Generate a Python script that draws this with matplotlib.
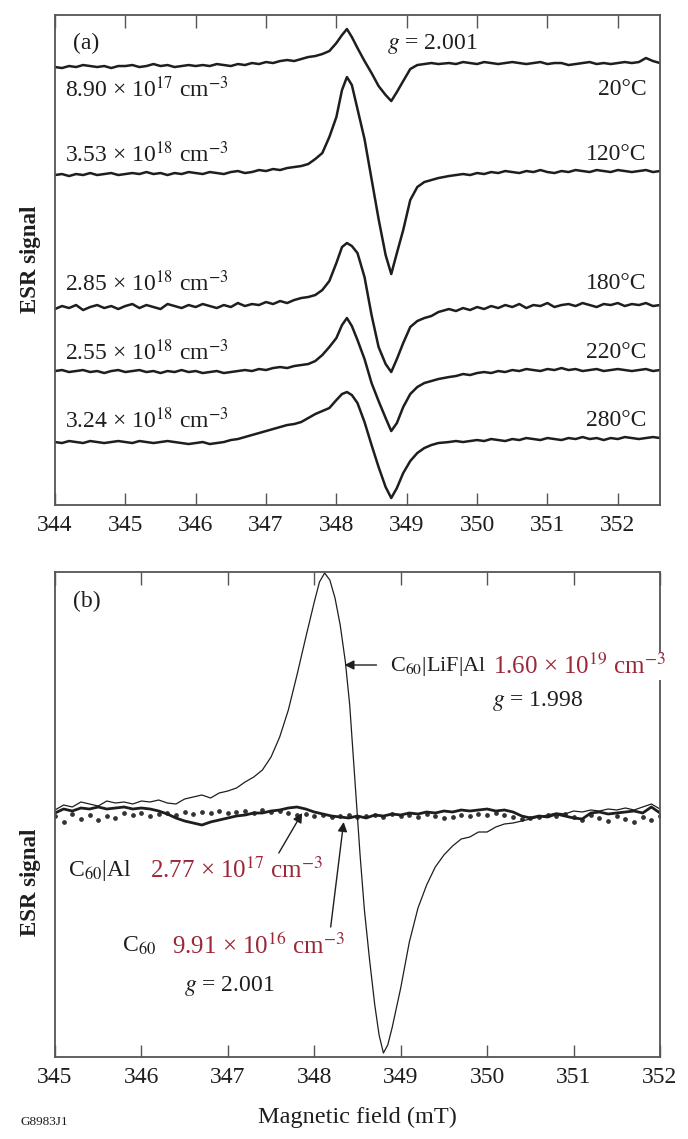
import numpy as np
import matplotlib
matplotlib.use("Agg")
import matplotlib.pyplot as plt

plt.rcParams['font.family'] = ['Liberation Serif', 'DejaVu Serif']
plt.rcParams['mathtext.fontset'] = 'stix'

# ---------------- panel (a): annealing series ----------------
field_a = [344.0, 344.1, 344.2, 344.3, 344.4, 344.5, 344.6, 344.7, 344.8, 344.9,
           345.0, 345.1, 345.2, 345.3, 345.4, 345.5, 345.6, 345.7, 345.8, 345.9,
           346.0, 346.1, 346.2, 346.3, 346.4, 346.5, 346.6, 346.7, 346.8, 346.9,
           347.0, 347.1, 347.2, 347.3, 347.4, 347.5, 347.6,
           347.7, 347.8, 347.9, 348.0, 348.08, 348.15, 348.22, 348.3, 348.4, 348.5,
           348.6, 348.7, 348.78, 348.86, 348.95, 349.05, 349.15, 349.25, 349.35, 349.45,
           349.6, 349.7, 349.8, 349.9, 350.0, 350.1, 350.2, 350.3, 350.4, 350.5,
           350.6, 350.7, 350.8, 350.9, 351.0, 351.1, 351.2, 351.3, 351.4, 351.5,
           351.6, 351.7, 351.8, 351.9, 352.0, 352.1, 352.2, 352.3, 352.4, 352.5, 352.6]

esr_20C = [0, -1, 1, 0, 2, 1, 0, 1, -1, 1,
           1, 2, 0, 1, 3, 1, 2, 0, 1, 2,
           1, 2, 1, 3, 2, 1, 3, 2, 4, 3,
           5, 4, 6, 7, 6, 8, 10,
           11, 13, 16, 24, 32, 38, 30, 19, 6, -6,
           -19, -28, -34, -25, -14, -2, 2, 3, 4, 3,
           4, 3, 5, 4, 3, 5, 4, 3, 4, 5,
           4, 3, 4, 5, 3, 4, 4, 2, 3, 4,
           5, 3, 4, 3, 4, 5, 4, 5, 9, 6, 4]
esr_120C = [0, 1, -1, 1, 0, 2, 0, 1, 2, 0,
            1, 2, 1, 3, 1, 2, 0, 2, 1, 3,
            2, 1, 3, 2, 1, 3, 4, 2, 3, 5,
            4, 6, 5, 7, 8, 9, 11,
            16, 22, 38, 58, 85, 98, 90, 66, 36, -4,
            -44, -80, -99, -78, -55, -25, -12, -7, -5, -3,
            -1, 0, 1, 0, 2, 1, 3, 2, 4, 3,
            2, 4, 3, 5, 3, 2, 4, 3, 5, 4,
            3, 5, 4, 3, 5, 4, 3, 4, 5, 3, 4]
esr_180C = [-2, 1, -1, 2, -3, 0, 2, -1, 1, -2,
            1, 3, -1, 2, 0, -2, 3, 1, -1, 2,
            0, 3, 1, -1, 2, 0, 4, 1, 3, 2,
            5, 3, 6, 4, 7, 9, 10,
            12, 17, 26, 44, 60, 64, 61, 54, 30, -8,
            -40, -57, -65, -52, -36, -20, -14, -11, -9, -5,
            -2, -4, -1, -3, 0, -2, 1, -1, 2, 0,
            3, -1, 2, 1, 4, 0, 2, 3, 1, 4,
            2, 0, 3, 2, 4, 1, 3, 2, 4, 1, 2]
esr_220C = [0, 1, -1, 0, 1, -1, 0, -2, 0, 1,
            -1, 0, 1, -1, 0, -2, 0, -1, 1, -1,
            0, -2, -1, 0, -2, -1, 0, 1, 0, 2,
            1, 3, 4, 3, 5, 6, 7,
            10, 16, 24, 33, 46, 53, 45, 31, 12, -12,
            -30, -47, -60, -52, -36, -23, -16, -12, -10, -8,
            -6, -5, -3, -4, -2, -1, -2, 0, -1, 1,
            0, 2, 1, 0, 2, 1, 3, 1, 2, 0,
            1, 2, 0, 1, 2, 1, 0, 1, 2, 0, 1]
esr_280C = [0, -1, 1, 0, -1, 1, 0, -1, 0, 1,
            0, -1, 1, 0, -1, 0, 1, 0, -1, -2,
            -1, 0, -2, -1, 0, 2, 3, 5, 7, 9,
            11, 13, 15, 17, 18, 20, 24,
            28, 31, 34, 42, 48, 50, 47, 39, 20, -3,
            -25, -45, -56, -46, -31, -19, -11, -6, -3, -1,
            0, 1, 0, 1, 2, 1, 3, 2, 1, 3,
            2, 4, 3, 2, 4, 3, 2, 4, 3, 5,
            3, 4, 2, 4, 3, 5, 4, 3, 4, 5, 4]

traces_a = [esr_20C, esr_120C, esr_180C, esr_220C, esr_280C]
offsets_a = [438, 330, 198, 134, 63]
temps_a = ["20°C", "120°C", "180°C", "220°C", "280°C"]
dens_a = ["8.90 × 10$^{17}$ cm$^{-3}$", "3.53 × 10$^{18}$ cm$^{-3}$",
          "2.85 × 10$^{18}$ cm$^{-3}$", "2.55 × 10$^{18}$ cm$^{-3}$",
          "3.24 × 10$^{18}$ cm$^{-3}$"]
label_y_a = [0.848, 0.715, 0.452, 0.311, 0.172]

# ---------------- panel (b): device comparison ----------------
field_lif = [345.0, 345.1, 345.2, 345.3, 345.4, 345.5, 345.6, 345.7, 345.8, 345.9,
             346.0, 346.1, 346.2, 346.3, 346.4, 346.5, 346.6, 346.7, 346.8, 346.9,
             347.0, 347.1, 347.2, 347.3, 347.4, 347.5, 347.6, 347.7, 347.8, 347.9,
             348.0, 348.06, 348.12, 348.18, 348.24, 348.3, 348.36, 348.41, 348.45, 348.49,
             348.53, 348.58, 348.64, 348.7, 348.75, 348.8, 348.85, 348.9, 349.0, 349.1,
             349.2, 349.3, 349.4, 349.5, 349.6, 349.7, 349.8, 349.9, 350.0, 350.1,
             350.2, 350.3, 350.4, 350.5, 350.6, 350.7, 350.8, 350.9, 351.0, 351.1,
             351.2, 351.3, 351.4, 351.5, 351.6, 351.7, 351.8, 351.9, 352.0]
esr_lif = [0, 5, 3, 8, 6, 4, 9, 7, 8, 6,
           9, 8, 10, 7, 6, 11, 13, 15, 12, 17,
           19, 22, 28, 33, 40, 53, 73, 100, 135, 172,
           208, 228, 237, 230, 212, 185, 148, 105, 55, 5,
           -45, -100, -150, -195, -225, -243, -235, -218, -178, -132,
           -98, -75, -57, -45, -36, -29, -27, -22, -22, -17,
           -14, -13, -11, -9, -7, -5, -3, -4, -1, -2,
           0, -1, 1, 0, 2, 0, 3, 6, 1]

field_b = [345.0, 345.1, 345.2, 345.3, 345.4, 345.5, 345.6, 345.7, 345.8, 345.9,
           346.0, 346.1, 346.2, 346.3, 346.4, 346.5, 346.6, 346.7, 346.8, 346.9,
           347.0, 347.1, 347.2, 347.3, 347.4, 347.5, 347.6, 347.7, 347.8, 347.9,
           348.0, 348.1, 348.2, 348.3, 348.4, 348.5, 348.6, 348.7, 348.8, 348.9,
           349.0, 349.1, 349.2, 349.3, 349.4, 349.5, 349.6, 349.7, 349.8, 349.9,
           350.0, 350.1, 350.2, 350.3, 350.4, 350.5, 350.6, 350.7, 350.8, 350.9,
           351.0, 351.1, 351.2, 351.3, 351.4, 351.5, 351.6, 351.7, 351.8, 351.9, 352.0]
esr_al = [-3, 1, -1, 2, 1, 3, 1, 2, 3, 1,
          2, 1, -1, -4, -8, -11, -13, -15, -12, -10,
          -8, -6, -5, -3, -3, -1, 0, 2, 3, 1,
          -2, -4, -6, -7, -8, -6, -8, -5, -6, -4,
          -5, -3, -4, -2, -3, -1, -2, 0, -1, 0,
          1, -1, 0, -2, -6, -8, -6, -7, -4, -6,
          -8, -9, -3, -2, -4, -3, -2, -1, -3, 3, -3]
esr_c60 = [-6, -12, -4, -9, -5, -10, -6, -8, -3, -5,
           -3, -6, -4, -3, -5, -2, -4, -2, -3, -1,
           -3, -2, -1, -3, 0, -2, -1, -3, -5, -4,
           -6, -5, -7, -6, -5, -7, -6, -5, -7, -4,
           -6, -5, -7, -4, -6, -8, -7, -5, -6, -4,
           -5, -3, -5, -7, -9, -8, -7, -5, -6, -4,
           -7, -10, -5, -8, -11, -6, -9, -12, -7, -10, -6]

red = '#9a2838'
ink = '#1e1e1e'
frame = '#555555'
fs = 17
fs_b = 18

fig = plt.figure(figsize=(6.88, 11.39), dpi=100)
ax_a = fig.add_axes([0.0799, 0.5566, 0.8794, 0.4302])
ax_b = fig.add_axes([0.0799, 0.0720, 0.8794, 0.4258])

# panel (a)
for vals, off in zip(traces_a, offsets_a):
    ax_a.plot(field_a, np.array(vals) + off, color=ink, lw=1.8)
ax_a.set_xlim(344, 352.6)
ax_a.set_ylim(0, 490)
ax_a.set_xticks(range(344, 353))

for txt, ty in zip(temps_a, label_y_a):
    ax_a.text(0.978, ty, txt, transform=ax_a.transAxes, ha='right', va='center',
              fontsize=fs, color=ink)
for txt, ty in zip(dens_a, label_y_a):
    ax_a.text(0.0165, ty, txt, transform=ax_a.transAxes, ha='left', va='center',
              fontsize=fs, color=ink)
ax_a.text(0.030, 0.943, "(a)", transform=ax_a.transAxes, ha='left', va='center',
          fontsize=fs, color=ink)
ax_a.text(0.549, 0.941, "$g$ = 2.001", transform=ax_a.transAxes, ha='left', va='center',
          fontsize=fs, color=ink)

# panel (b)
ax_b.plot(field_b, esr_c60, linestyle='none', marker='o', ms=2.4, color='#333333')
ax_b.plot(field_b, esr_al, color=ink, lw=2.0)
ax_b.plot(field_lif, esr_lif, color=ink, lw=0.9)
ax_b.set_xlim(345, 352)
ax_b.set_ylim(-247, 238)
ax_b.set_xticks(range(345, 353))

arrow_kw = dict(arrowstyle='-|>', color=ink, lw=1.0, mutation_scale=14,
                shrinkA=0, shrinkB=0)
ax_b.annotate("", xy=(348.35, 145), xytext=(348.72, 145), arrowprops=arrow_kw)
ax_b.annotate("", xy=(347.86, -3), xytext=(347.59, -43), arrowprops=arrow_kw)
ax_b.annotate("", xy=(348.34, -12), xytext=(348.19, -117), arrowprops=arrow_kw)

ax_b.text(0.554, 0.806, "C$_{60}$|LiF|Al", transform=ax_b.transAxes, ha='left',
          va='center', fontsize=16, color=ink)
ax_b.text(0.724, 0.806, "1.60 × 10$^{19}$ cm$^{-3}$", transform=ax_b.transAxes,
          ha='left', va='center', fontsize=fs_b, color=red, zorder=5,
          bbox=dict(facecolor='white', edgecolor='none', pad=0.5))
ax_b.text(0.798, 0.734, "$g$ = 1.998", transform=ax_b.transAxes, ha='center',
          va='center', fontsize=fs, color=ink)
ax_b.text(0.0215, 0.384, "C$_{60}$|Al", transform=ax_b.transAxes, ha='left',
          va='center', fontsize=fs, color=ink)
ax_b.text(0.157, 0.384, "2.77 × 10$^{17}$ cm$^{-3}$", transform=ax_b.transAxes,
          ha='left', va='center', fontsize=fs_b, color=red)
ax_b.text(0.111, 0.229, "C$_{60}$", transform=ax_b.transAxes, ha='left',
          va='center', fontsize=fs, color=ink)
ax_b.text(0.193, 0.229, "9.91 × 10$^{16}$ cm$^{-3}$", transform=ax_b.transAxes,
          ha='left', va='center', fontsize=fs_b, color=red)
ax_b.text(0.289, 0.146, "$g$ = 2.001", transform=ax_b.transAxes, ha='center',
          va='center', fontsize=fs, color=ink)
ax_b.text(0.030, 0.940, "(b)", transform=ax_b.transAxes, ha='left', va='center',
          fontsize=fs, color=ink)

for ax in (ax_a, ax_b):
    ax.set_yticks([])
    ax.tick_params(axis='x', direction='in', top=True, length=9, width=1,
                   color=frame, labelsize=17, labelcolor=ink, pad=7)
    for sp in ax.spines.values():
        sp.set_color(frame)
        sp.set_linewidth(1.3)

fig.text(0.044, 0.772, "ESR signal", rotation=90, ha='center', va='center',
         fontsize=16.5, fontweight='bold', color=ink)
fig.text(0.044, 0.2256, "ESR signal", rotation=90, ha='center', va='center',
         fontsize=16.5, fontweight='bold', color=ink)
fig.text(0.5196, 0.0193, "Magnetic field (mT)", ha='center', va='center',
         fontsize=17.5, color=ink)
fig.text(0.0305, 0.0148, "G8983J1", ha='left', va='center', fontsize=9.5, color=ink)

fig.savefig("out.png", dpi=100, facecolor='white')
